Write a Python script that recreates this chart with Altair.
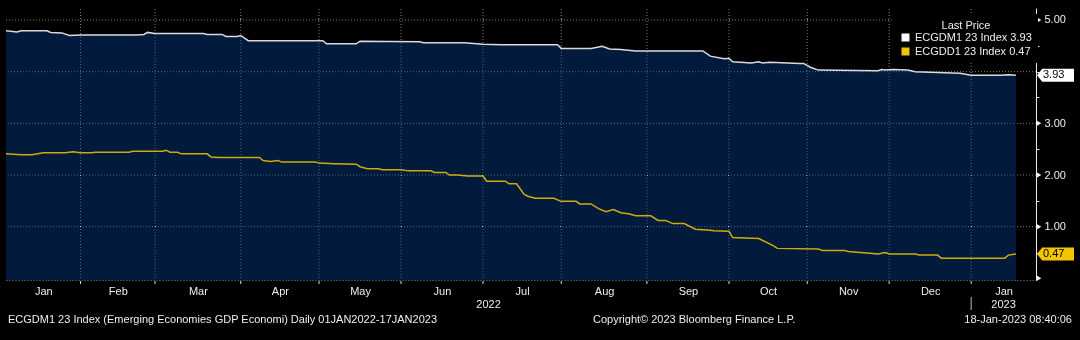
import altair as alt
import pandas as pd

# ---------------- data ----------------
# x = trading-session number (0 = Mon 3 Jan 2022 ... 271 = Tue 17 Jan 2023)
gdm_session = [0, 3, 4, 11, 12, 15, 17, 20, 35, 37, 38, 40, 53, 54, 58, 59, 62, 63, 65, 85,
               86, 94, 95, 111, 112, 123, 128, 133, 148, 149, 157, 160, 162, 165, 169, 187, 189, 192, 193, 194,
               195, 200, 202, 203, 205, 213, 214, 216, 218, 234, 235, 236, 238, 242, 244, 252, 256, 259, 267, 269,
               271]
gdm_value = [4.79, 4.77, 4.79, 4.79, 4.76, 4.75, 4.70, 4.71, 4.71, 4.72, 4.76, 4.74, 4.74, 4.72, 4.72, 4.68, 4.68, 4.70, 4.60, 4.60,
             4.54, 4.54, 4.59, 4.58, 4.56, 4.56, 4.53, 4.52, 4.52, 4.45, 4.45, 4.49, 4.44, 4.43, 4.40, 4.40, 4.30, 4.26, 4.25, 4.26,
             4.19, 4.17, 4.19, 4.17, 4.18, 4.16, 4.16, 4.08, 4.03, 4.02, 4.04, 4.03, 4.04, 4.03, 4.00, 3.98, 3.97, 3.93, 3.93, 3.94,
             3.93]
gdd_session = [0, 4, 7, 10, 16, 18, 20, 23, 24, 33, 34, 42, 43, 44, 46, 47, 54, 55, 57, 68,
               69, 71, 73, 74, 83, 84, 88, 94, 95, 97, 100, 101, 106, 108, 114, 115, 118, 119, 121, 124,
               128, 129, 134, 135, 137, 139, 140, 142, 147, 149, 153, 154, 157, 159, 161, 163, 165, 167, 169, 173,
               175, 177, 179, 182, 185, 189, 190, 194, 195, 202, 206, 207, 218, 219, 225, 226, 231, 234, 236, 237,
               244, 245, 250, 251, 268, 269, 271]
gdd_value = [2.41, 2.39, 2.39, 2.43, 2.43, 2.45, 2.43, 2.43, 2.44, 2.44, 2.46, 2.46, 2.48, 2.44, 2.44, 2.41, 2.41, 2.35, 2.34, 2.34,
             2.28, 2.26, 2.28, 2.25, 2.25, 2.23, 2.22, 2.21, 2.16, 2.12, 2.12, 2.10, 2.10, 2.08, 2.08, 2.05, 2.05, 2.00, 2.00, 1.98,
             1.98, 1.88, 1.88, 1.83, 1.83, 1.63, 1.59, 1.55, 1.55, 1.49, 1.49, 1.44, 1.44, 1.35, 1.29, 1.33, 1.27, 1.25, 1.21, 1.21,
             1.12, 1.12, 1.06, 1.06, 0.95, 0.93, 0.92, 0.91, 0.79, 0.77, 0.63, 0.58, 0.57, 0.54, 0.54, 0.52, 0.49, 0.47, 0.50, 0.47,
             0.47, 0.45, 0.45, 0.39, 0.39, 0.45, 0.47]

series_names = ["ECGDM1 23 Index", "ECGDD1 23 Index"]
last_values = [3.93, 0.47]
month_labels = ["Jan", "Feb", "Mar", "Apr", "May", "Jun", "Jul", "Aug", "Sep", "Oct", "Nov", "Dec", "Jan"]
year_labels = ["2022", "2023"]
grid_values = [1, 2, 3, 4, 5]
label_values = [1, 2, 3, 5]
tick_values = [0.5, 1, 1.5, 2, 2.5, 3, 3.5, 4, 4.5, 5]
marker_values = [0, 1, 2, 3, 5]
legend_title = "Last Price"
footer_left = "ECGDM1 23 Index (Emerging Economies GDP Economi)  Daily 01JAN2022-17JAN2023"
footer_mid = "Copyright\u00a9 2023 Bloomberg Finance L.P."
footer_right = "18-Jan-2023 08:40:06"

# ---------------- layout / style ----------------
FONT = "Liberation Sans"
W, H = 1030, 272
X_MAX = 276.4
Y_MIN, Y_MAX = -0.032, 5.232
NAVY = "#021a3c"
WHITE = "#ffffff"
YELLOW = "#f2c500"
GRID_GRAY = "#7c7c7c"
DODGE = "#f8bd92"
TXT = "#eeeeee"

sessions = pd.bdate_range("2022-01-03", "2023-01-17")
month_end = [i for i in range(len(sessions) - 1) if sessions[i].month != sessions[i + 1].month]
bounds = [0] + month_end + [X_MAX]
mids = [round((bounds[i] + bounds[i + 1]) / 2, 2) for i in range(len(bounds) - 1)]
year_mid = [round(month_end[-1] / 2, 2), round((month_end[-1] + X_MAX) / 2, 2)]

legend_labels = [f"{n} {v:.2f}" for n, v in zip(series_names, last_values)]

df_gdm = pd.DataFrame({"session": gdm_session, "value": gdm_value, "series": legend_labels[0]})
df_gdd = pd.DataFrame({"session": gdd_session, "value": gdd_value, "series": legend_labels[1]})
df_lines = pd.concat([df_gdm, df_gdd], ignore_index=True)
df_me = pd.DataFrame({"session": month_end})
df_grid = pd.DataFrame({"value": grid_values})
df_mark = pd.DataFrame({"value": marker_values})
df_tags = pd.DataFrame({"value": last_values, "t": [f"{v:.2f}" for v in last_values], "c": [WHITE, YELLOW]})
df_years = pd.DataFrame({"session": year_mid, "t": year_labels})
df_sep = pd.DataFrame({"session": [month_end[-1]]})

x_scale = alt.Scale(domain=[0, X_MAX], nice=False, zero=False)
y_scale = alt.Scale(domain=[Y_MIN, Y_MAX], nice=False, zero=False)

label_expr = " : ".join(f"datum.value == {m} ? '{lab}'" for m, lab in zip(mids, month_labels)) + " : ''"
y_test = " || ".join(f"datum.value == {v}" for v in label_values)

x_axis = alt.Axis(
    orient="bottom", values=mids, labelExpr=label_expr, title=None,
    grid=False, domain=True, domainColor="#6f8db3", domainDash=[1, 2], domainWidth=1,
    ticks=False,
    labelColor=TXT, labelFont=FONT, labelFontSize=11, labelPadding=5,
    labelOverlap=False, labelFlush=False, labelBound=False,
)
y_axis = alt.Axis(
    orient="right", values=tick_values, title=None, grid=False,
    labelExpr=f"({y_test}) ? format(datum.value, '.2f') : ''",
    domain=True, domainColor="#e8e8e8", domainWidth=1,
    ticks=True, tickSize=3, tickColor="#e8e8e8",
    labelColor=TXT, labelFont=FONT, labelFontSize=11, labelPadding=5,
    labelOverlap=False, labelFlush=False, labelBound=False,
)


def xs(field="session:Q"):
    return alt.X(field, scale=x_scale, axis=x_axis, title=None)


def ys(field="value:Q"):
    return alt.Y(field, scale=y_scale, axis=y_axis, title=None)


y_lo = alt.YDatum(Y_MIN, scale=y_scale, axis=y_axis, title=None)
y_hi = alt.Y2Datum(Y_MAX)
x_lo = alt.XDatum(0, scale=x_scale, axis=x_axis, title=None)
x_hi = alt.X2Datum(X_MAX)

grid_v_gray = alt.Chart(df_me).mark_rule(color=GRID_GRAY, strokeDash=[1, 2], strokeWidth=1).encode(
    x=xs(), y=y_lo, y2=y_hi)
grid_h_gray = alt.Chart(df_grid).mark_rule(color=GRID_GRAY, strokeDash=[1, 2], strokeWidth=1).encode(
    y=ys(), x=x_lo, x2=x_hi)

area = alt.Chart(df_gdm).mark_area(color=NAVY, opacity=1).encode(
    x=xs(), y=ys(), y2=alt.Y2Datum(Y_MIN))

grid_v_blue = alt.Chart(df_me).mark_rule(color=DODGE, strokeDash=[1, 2], strokeDashOffset=1,
                                         strokeWidth=1, blend="color-dodge").encode(
    x=xs(), y=y_lo, y2=y_hi)
grid_h_blue = alt.Chart(df_grid).mark_rule(color=DODGE, strokeDash=[1, 2], strokeDashOffset=1,
                                           strokeWidth=1, blend="color-dodge").encode(
    y=ys(), x=x_lo, x2=x_hi)

month_ticks = alt.Chart(df_me).mark_rule(color="#dddddd", strokeWidth=1).encode(
    x=xs(), y=alt.value(H + 1), y2=alt.value(H + 4))

lines = alt.Chart(df_lines).mark_line(strokeWidth=1.5, opacity=0.85).encode(
    x=xs(), y=ys(),
    color=alt.Color("series:N", scale=alt.Scale(domain=legend_labels, range=[WHITE, YELLOW]),
                    legend=alt.Legend(
                        orient="none", legendX=888, legendY=6, title=legend_title,
                        titleAnchor="middle", titleColor=TXT, titleFont=FONT, titleFontSize=11,
                        titleFontWeight="normal", titlePadding=1,
                        labelColor=TXT, labelFont=FONT, labelFontSize=11, labelLimit=0, labelOffset=4,
                        symbolType="square", symbolSize=9, symbolStrokeWidth=5, symbolOpacity=1,
                        clipHeight=11, rowPadding=2,
                        fillColor="#000000", padding=6,
                    )),
    detail="series:N",
)

markers = alt.Chart(df_mark).mark_point(shape="triangle-right", filled=True, color="#f2f2f2",
                                        size=30, opacity=1).encode(x=alt.value(W + 3), y=ys())

TAG_PATH = "M-1,0 L-0.72,-0.35 L1,-0.35 L1,0.35 L-0.72,0.35 Z"
tags = alt.Chart(df_tags).mark_point(shape=TAG_PATH, filled=True, size=37 * 37, opacity=1,
                                     strokeWidth=0).encode(
    x=alt.value(W + 1 + 18.5), y=ys(), fill=alt.Fill("c:N", scale=None))
tag_text = alt.Chart(df_tags).mark_text(align="left", baseline="middle", color="#000000",
                                        font=FONT, fontSize=11).encode(
    x=alt.value(W + 7), y=ys(), text="t:N")

sep = alt.Chart(df_sep).mark_rule(color="#bbbbbb", strokeWidth=1).encode(
    x=xs(), y=alt.value(H + 17), y2=alt.value(H + 30))
years = alt.Chart(df_years).mark_text(color=TXT, font=FONT, fontSize=11, baseline="middle").encode(
    x=xs(), y=alt.value(H + 25), text="t:N")


def footer(text, x, align):
    return alt.Chart(pd.DataFrame({"t": [text]})).mark_text(
        color=TXT, font=FONT, fontSize=11, baseline="middle", align=align).encode(
        x=alt.value(x), y=alt.value(H + 40), text="t:N")


chart = alt.layer(
    grid_v_gray, grid_h_gray, area, grid_v_blue, grid_h_blue, month_ticks, lines,
    markers, tags, tag_text, sep, years,
    footer(footer_left, 2, "left"), footer(footer_mid, 587, "left"), footer(footer_right, 1066, "right"),
).properties(
    width=W, height=H,
    autosize=alt.AutoSizeParams(type="none"),
    padding={"left": 6, "top": 8, "right": 44, "bottom": 60},
    background="#000000",
).configure_view(stroke=None)

chart.save("out.html", embed_options={"renderer": "svg", "actions": False})
